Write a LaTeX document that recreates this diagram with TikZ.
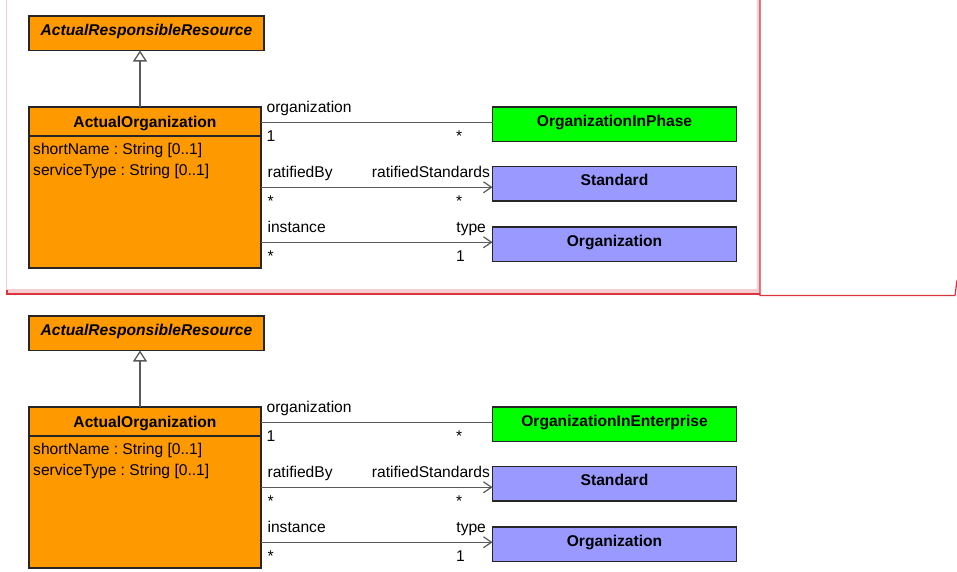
\documentclass[tikz,border=0pt]{standalone}
\usepackage{fontspec}
\setmainfont{Liberation Sans}
\usetikzlibrary{arrows.meta,positioning}
\definecolor{clsorange}{HTML}{FF9900}
\definecolor{clsgreen}{HTML}{00FF00}
\definecolor{clsblue}{HTML}{9999FF}
\definecolor{linegray}{HTML}{5A5A5A}
\definecolor{framered}{HTML}{DC343C}
\definecolor{framepink}{HTML}{F6CDD0}
\newcommand{\umlfont}{\fontsize{15.6}{18.7}\selectfont}
\frenchspacing

\begin{document}
\begin{tikzpicture}[
  x=1pt, y=-1pt, font=\umlfont,
  cls/.style={draw=black!85, line width=1.3pt, anchor=north west, inner sep=0pt, outer sep=0pt,
    minimum width=235pt, minimum height=34.5pt, text height=11.5pt, text depth=8pt, font=\umlfont\bfseries},
  abstract/.style={cls, fill=clsorange, font=\umlfont\bfseries\itshape},
  context/.style={cls, fill=clsgreen, minimum width=244pt},
  ref/.style={cls, fill=clsblue, minimum width=244pt},
  orgcls/.style={draw=black!85, line width=1.3pt, fill=clsorange, anchor=north west, outer sep=0pt,
    minimum width=232pt, minimum height=161pt},
  compart/.style={draw=black!85, line width=1.3pt},
  attr/.style={anchor=north west, align=left, inner sep=0pt, font=\fontsize{15.6}{21}\selectfont},
  gen/.style={draw=linegray, line width=1.3pt, -{Triangle[open, width=14pt, length=11pt]}},
  assoc/.style={draw=linegray, line width=1.2pt},
  nav/.style={assoc, -{Straight Barb[length=8pt, width=11pt]}},
  lab/.style={inner sep=0pt, font=\umlfont}
]
\useasboundingbox (0,0) rectangle (957,571);

% frame of the upper diagram
\fill[framepink] (7,289) rectangle (760,293);
\fill[framepink] (757,0) rectangle (759.5,293);
\draw[framepink, line width=1.2pt] (6.5,0) -- (6.5,295);
\draw[framered, line width=1.2pt] (7,290) -- (7,294) -- (760,294);
\draw[framered, line width=1.2pt] (760,0) -- (760,295.5) -- (955,295.5) -- (957,280);

% upper diagram: phase
\node[abstract] (arrA) at (29,16) {ActualResponsibleResource};
\node[orgcls] (aoA) at (29,107) {};
\node[font=\umlfont\bfseries, anchor=base, inner sep=0pt] (aonameA) at ([yshift=-20pt]aoA.north) {ActualOrganization};
\draw[compart] ([yshift=-29pt]aoA.north west) -- ([yshift=-29pt]aoA.north east);
\node[attr] (attrA) at ([shift={(4pt,-36pt)}]aoA.north west) {shortName : String [0..1]\\serviceType : String [0..1]};
\node[context] (oipA) at (492.5,107) {OrganizationInPhase};
\node[ref, below=25pt of oipA] (stdA) {Standard};
\node[ref, below=26pt of stdA] (orgA) {Organization};

\draw[gen] ([xshift=-5pt]aoA.north) -- ([xshift=-5pt]aoA.north |- arrA.south);
\draw[assoc] ([yshift=1.5pt]oipA.west -| aoA.east) -- ([yshift=1.5pt]oipA.west)
  node[lab, at start, anchor=base west, xshift=5pt, yshift=10pt] {organization}
  node[lab, at start, anchor=base west, xshift=5pt, yshift=-19pt] {1}
  node[lab, at end, anchor=base west, xshift=-37pt, yshift=-19pt] {*};
\draw[nav] ([yshift=-3.5pt]stdA.west -| aoA.east) -- ([yshift=-3.5pt]stdA.west)
  node[lab, at start, anchor=base west, xshift=6pt, yshift=10pt] {ratifiedBy}
  node[lab, at start, anchor=base west, xshift=6pt, yshift=-19pt] {*}
  node[lab, at end, anchor=base east, xshift=-2pt, yshift=10pt] {ratifiedStandards}
  node[lab, at end, anchor=base west, xshift=-37pt, yshift=-19pt] {*};
\draw[nav] ([yshift=2pt]orgA.west -| aoA.east) -- ([yshift=2pt]orgA.west)
  node[lab, at start, anchor=base west, xshift=6pt, yshift=10pt] {instance}
  node[lab, at start, anchor=base west, xshift=6pt, yshift=-19pt] {*}
  node[lab, at end, anchor=base east, xshift=-6pt, yshift=10pt] {type}
  node[lab, at end, anchor=base west, xshift=-37pt, yshift=-19pt] {1};

% lower diagram: enterprise
\node[abstract] (arrB) at (29,316) {ActualResponsibleResource};
\node[orgcls] (aoB) at (29,407) {};
\node[font=\umlfont\bfseries, anchor=base, inner sep=0pt] (aonameB) at ([yshift=-20pt]aoB.north) {ActualOrganization};
\draw[compart] ([yshift=-29pt]aoB.north west) -- ([yshift=-29pt]aoB.north east);
\node[attr] (attrB) at ([shift={(4pt,-36pt)}]aoB.north west) {shortName : String [0..1]\\serviceType : String [0..1]};
\node[context] (oieB) at (492.5,407) {OrganizationInEnterprise};
\node[ref, below=25pt of oieB] (stdB) {Standard};
\node[ref, below=26pt of stdB] (orgB) {Organization};

\draw[gen] ([xshift=-5pt]aoB.north) -- ([xshift=-5pt]aoB.north |- arrB.south);
\draw[assoc] ([yshift=1.5pt]oieB.west -| aoB.east) -- ([yshift=1.5pt]oieB.west)
  node[lab, at start, anchor=base west, xshift=5pt, yshift=10pt] {organization}
  node[lab, at start, anchor=base west, xshift=5pt, yshift=-19pt] {1}
  node[lab, at end, anchor=base west, xshift=-37pt, yshift=-19pt] {*};
\draw[nav] ([yshift=-3.5pt]stdB.west -| aoB.east) -- ([yshift=-3.5pt]stdB.west)
  node[lab, at start, anchor=base west, xshift=6pt, yshift=10pt] {ratifiedBy}
  node[lab, at start, anchor=base west, xshift=6pt, yshift=-19pt] {*}
  node[lab, at end, anchor=base east, xshift=-2pt, yshift=10pt] {ratifiedStandards}
  node[lab, at end, anchor=base west, xshift=-37pt, yshift=-19pt] {*};
\draw[nav] ([yshift=2pt]orgB.west -| aoB.east) -- ([yshift=2pt]orgB.west)
  node[lab, at start, anchor=base west, xshift=6pt, yshift=10pt] {instance}
  node[lab, at start, anchor=base west, xshift=6pt, yshift=-19pt] {*}
  node[lab, at end, anchor=base east, xshift=-6pt, yshift=10pt] {type}
  node[lab, at end, anchor=base west, xshift=-37pt, yshift=-19pt] {1};
\end{tikzpicture}
\end{document}
